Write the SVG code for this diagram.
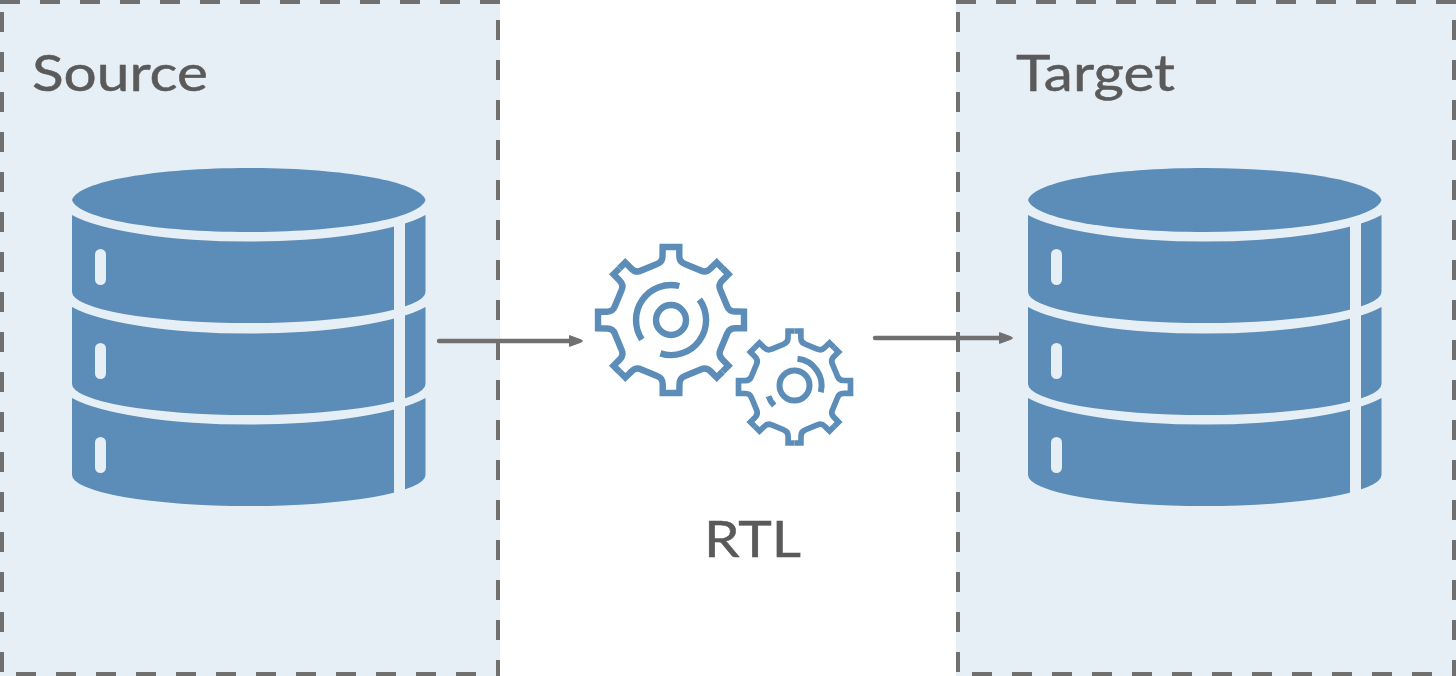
<svg xmlns="http://www.w3.org/2000/svg" xmlns:xlink="http://www.w3.org/1999/xlink" width="1456" height="676" viewBox="0 0 1456 676">
<style>
.panel{fill:#e6eef6}
.dash{stroke:#707070;stroke-width:4;stroke-dasharray:20 20;fill:none}
.seg{fill:#5b8db8}
.cut{fill:#e6eef6}
.gear{fill:none;stroke:#5b8db8;stroke-linejoin:miter}
.label{font-family:"Lato","Liberation Sans",sans-serif;font-size:50px;fill:#5a5a5a;stroke:#5a5a5a;stroke-width:.5}
.conn{stroke:#707070;stroke-width:4.4;stroke-linecap:round;fill:none;marker-end:url(#arrow)}
</style>
<defs>
<marker id="arrow" markerUnits="userSpaceOnUse" markerWidth="16" markerHeight="16" refX="1" refY="8" orient="auto">
<path d="M1.5 2.6L13.5 7L14.5 8L13.5 9L1.5 13.4Z" fill="#707070" stroke="#707070" stroke-width="1" stroke-linejoin="round"/>
</marker>
<g id="db">
<path class="seg" d="M72 200C78 181 157 168 248.75 168C340.5 168 419.5 181 425.5 200C419.5 219 340.5 232 248.75 232C157 232 78 219 72 200Z"/>
<path class="seg" d="M72 215A190 42 0 0 0 425.5 215V292A176.75 31 0 0 1 72 292Z"/>
<path class="seg" d="M72 307A190 42 0 0 0 425.5 307V384A176.75 31 0 0 1 72 384Z"/>
<path class="seg" d="M72 398A190 42 0 0 0 425.5 398V475A176.75 31 0 0 1 72 475Z"/>
<rect class="cut" x="394" y="220" width="11" height="280"/>
<rect class="cut" x="95" y="249" width="11" height="36" rx="5.5"/>
<rect class="cut" x="95" y="343" width="11" height="36" rx="5.5"/>
<rect class="cut" x="95" y="437" width="11" height="36" rx="5.5"/>
</g>
<path id="tooth" d="M0 -73H8.3V-64Q8.3 -58 14 -56L29.7 -49.5Q35.1 -46.9 39.4 -51.4L45.7 -57.5L51.6 -51.6"/>
<g id="rim">
<use href="#tooth"/>
<use href="#tooth" transform="rotate(45)"/>
<use href="#tooth" transform="rotate(90)"/>
<use href="#tooth" transform="rotate(135)"/>
<use href="#tooth" transform="rotate(180)"/>
<use href="#tooth" transform="rotate(225)"/>
<use href="#tooth" transform="rotate(270)"/>
<use href="#tooth" transform="rotate(315)"/>
</g>
</defs>
<g id="source-panel">
<rect class="panel" x="0" y="0" width="500" height="676"/>
<path class="dash" d="M0 2H500"/>
<path class="dash" d="M16 674H500"/>
<path class="dash" d="M2 12V676"/>
<path class="dash" d="M498 20V676"/>
<text class="label" x="32" y="91" textLength="176" lengthAdjust="spacingAndGlyphs">Source</text>
</g>
<g id="target-panel">
<rect class="panel" x="956" y="0" width="500" height="676"/>
<path class="dash" d="M956 2H1456"/>
<path class="dash" d="M972 674H1456"/>
<path class="dash" d="M958 12V676"/>
<path class="dash" d="M1454 20V676"/>
<text class="label" x="1016" y="91" textLength="159" lengthAdjust="spacingAndGlyphs">Target</text>
</g>
<g id="source-db"><use href="#db"/></g>
<g id="target-db"><use href="#db" x="956"/></g>
<g id="rtl">
<g class="gear" stroke-width="6.4" transform="translate(671 320)">
<use href="#rim"/>
<circle r="15"/>
<path d="M8.3 -34A35 35 0 0 0 -29.1 19.4"/>
<path d="M28.4 -20.5A35 35 0 0 1 -10.6 33.4"/>
</g>
<g class="gear" stroke-width="7.4" transform="translate(794.5 387) scale(.767)">
<use href="#rim"/>
</g>
<g class="gear" stroke-width="6" transform="translate(794.5 385.5)">
<circle r="15"/>
<path d="M3 -26.7A27 27 0 0 1 26.3 6.7"/>
<path d="M-26 10.7A28 28 0 0 0 -20.3 20"/>
</g>
<text class="label" x="704" y="557" textLength="97" lengthAdjust="spacingAndGlyphs">RTL</text>
</g>
<g id="connectors">
<path class="conn" d="M439 341H569"/>
<path class="conn" d="M875 338H999"/>
</g>
</svg>
